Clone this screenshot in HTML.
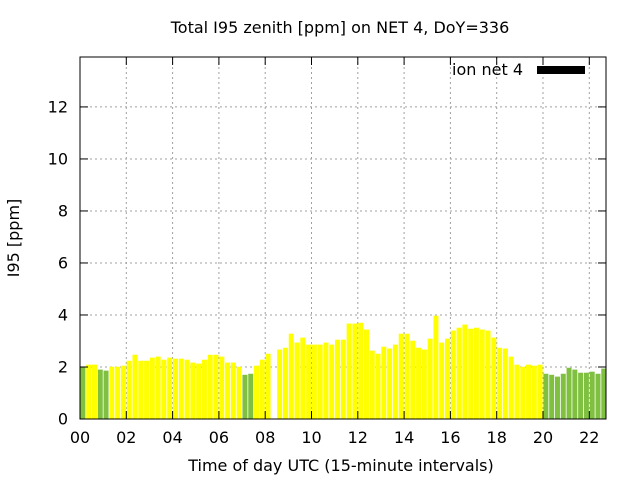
<!DOCTYPE html>
<html><head><meta charset="utf-8"><style>
body{margin:0;background:#fff;}
text{font-family:"DejaVu Sans","Liberation Sans",sans-serif;}
</style></head><body>
<svg id="chart" width="640" height="480" xmlns="http://www.w3.org/2000/svg">
<text x="340" y="33" font-size="16" text-anchor="middle">Total I95 zenith [ppm] on NET 4, DoY=336</text>
<text x="341" y="471" font-size="16" text-anchor="middle">Time of day UTC (15-minute intervals)</text>
<text x="19" y="238" font-size="16" text-anchor="middle" transform="rotate(-90 19 238)">I95 [ppm]</text>
<defs><clipPath id="plotclip"><rect x="80" y="57" width="526" height="362"/></clipPath></defs>
<g id="grid"></g>
<g id="bars" clip-path="url(#plotclip)"></g>
<g id="axes"></g>
<text x="523" y="75" font-size="16" text-anchor="end">ion net 4</text>
<rect x="537" y="66" width="48" height="8" fill="#000"/>
</svg>
<script>
const values = [2.0,2.09,2.09,1.9,1.86,2.01,2.01,2.05,2.24,2.47,2.24,2.24,2.36,2.4,2.28,2.36,2.32,2.32,2.28,2.17,2.13,2.28,2.47,2.47,2.4,2.17,2.17,2.01,1.7,1.74,2.05,2.28,2.51,0,2.67,2.74,3.28,2.94,3.13,2.86,2.86,2.86,2.94,2.86,3.05,3.05,3.67,3.67,3.7,3.44,2.63,2.51,2.78,2.71,2.86,3.28,3.28,3.01,2.74,2.67,3.09,3.97,2.94,3.09,3.4,3.51,3.63,3.47,3.51,3.44,3.4,3.13,2.74,2.71,2.4,2.09,2.01,2.09,2.05,2.09,1.74,1.7,1.63,1.74,1.97,1.9,1.78,1.78,1.82,1.74,1.94,1.82];
const greenSlots = [0,3,4,28,29,80,81,82,83,84,85,86,87,88,89,90,91];
const yTicks = [0,2,4,6,8,10,12];
const xTickLabels = ["00","02","04","06","08","10","12","14","16","18","20","22"];
const NS="http://www.w3.org/2000/svg";
const L=80,R=606,T=57,B=419,yMax=13.92,hourPx=23.15;
const xs=h=>L+h*hourPx;
const ys=v=>B-(v/yMax)*(B-T);
function mk(tag,attrs,parent){const e=document.createElementNS(NS,tag);for(const k in attrs)e.setAttribute(k,attrs[k]);parent.appendChild(e);return e;}
const grid=document.getElementById('grid'),bars=document.getElementById('bars'),axes=document.getElementById('axes');
yTicks.forEach(v=>{
  if(v>0){const g=mk('line',{x1:L,x2:R,y1:ys(v),y2:ys(v),stroke:'#a0a0a0','stroke-dasharray':'2,3'},grid);
  
  }
  const t=mk('line',{x1:L,x2:L+8,y1:ys(v),y2:ys(v),stroke:'#000'},axes);
  
  
  const t2=mk('line',{x1:R,x2:R-8,y1:ys(v),y2:ys(v),stroke:'#000'},axes);
  
  
  const lb=mk('text',{x:L-12,y:ys(v)+5.5,'font-size':16,'text-anchor':'end'},axes);
  lb.textContent=v;
  
  
});
xTickLabels.forEach((s,i)=>{
  const x=xs(i*2);
  if(i>0){const g=mk('line',{x1:x,x2:x,y1:T,y2:B,stroke:'#a0a0a0','stroke-dasharray':'2,3'},grid);
  
  }
  const lb=mk('text',{x:x,y:443,'font-size':16,'text-anchor':'middle'},axes);
  lb.textContent=s;
  
  
  const t=mk('line',{x1:x,x2:x,y1:B,y2:B-8,stroke:'#000'},axes);
  
  
  const t2=mk('line',{x1:x,x2:x,y1:T,y2:T+8,stroke:'#000'},axes);
  
  
});
values.forEach((v,i)=>{
  if(v<=0)return;
  const x=xs(i*0.25);
  const b=mk('rect',{x:x+0.4,y:ys(v),width:5,height:B-ys(v),fill:greenSlots.includes(i)?'#80c040':'#ffff00'},bars);
  
  
});
const fr=mk('rect',{x:L,y:T,width:R-L,height:B-T,fill:'none',stroke:'#000','stroke-width':1},axes);


</script>
</body></html>
